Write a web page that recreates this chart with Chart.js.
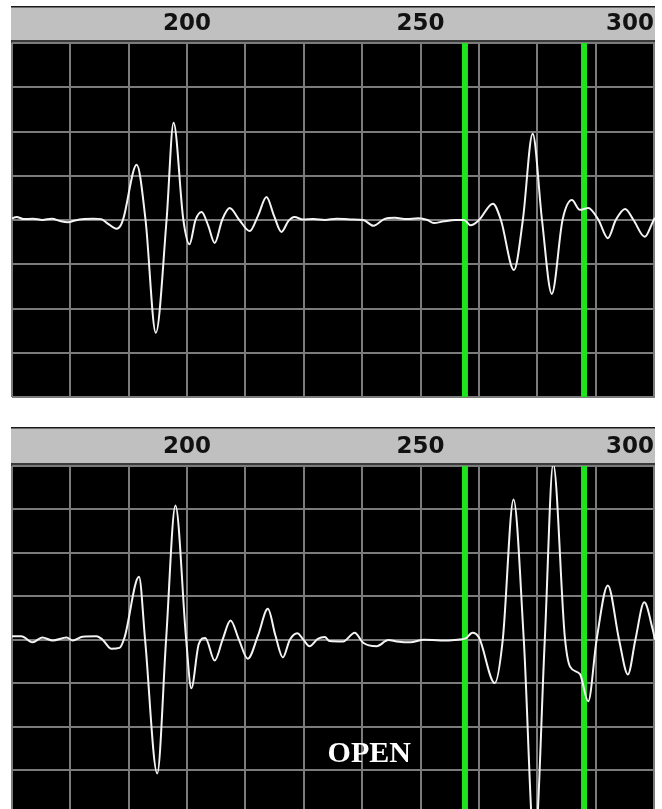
<!DOCTYPE html>
<html>
<head>
<meta charset="utf-8">
<script src="https://cdn.jsdelivr.net/npm/chart.js@4.4.0/dist/chart.umd.min.js"></script>
<style>
  html, body { margin: 0; padding: 0; background: #fff; }
  .panel { position: absolute; left: 0; width: 662px; }
  #topPanel { top: 0; height: 400px; }
  #bottomPanel { top: 421px; height: 388px; }
</style>
</head>
<body>
<div class="panel" id="topPanel"><canvas id="topChart"></canvas></div>
<div class="panel" id="bottomPanel"><canvas id="bottomChart"></canvas></div>
<script>
// x range of both panels, grid step and the labels in the grey header
const xMin = 162.5;
const xMax = 300.2;
const gridStep = 12.5;
const tickLabels = [200, 250, 300];

// the two green cursors
const cursorX = [259.5, 285];

// upper trace
const topX = [
  162.4, 163.5, 165.0, 167.0, 169.0, 171.0, 173.0, 174.5, 176.0, 178.0,
  180.0, 181.6, 183.0, 184.9, 185.8, 186.4, 189.2, 191.1, 193.3, 195.6,
  197.1, 199.2, 200.5, 201.8, 203.1, 204.5, 205.9, 207.5, 209.1, 211.2,
  213.4, 215.2, 217.0, 218.6, 220.2, 221.7, 223.0, 224.8, 227.0, 229.5,
  232.0, 235.0, 237.7, 239.9, 242.2, 244.5, 247.0, 249.5, 251.5, 252.8,
  255.0, 257.5, 259.3, 260.7, 262.5, 265.5, 267.2, 270.0, 271.9, 274.0,
  276.0, 278.1, 280.4, 282.4, 284.1, 285.9, 288.1, 290.1, 291.8, 293.8,
  295.6, 298.0, 299.7, 300.2,
];
const topY = [
  0.03, 0.07, 0.02, 0.03, 0.0, 0.03, -0.03, -0.05, -0.01, 0.02,
  0.03, 0.02, -0.08, -0.2, -0.12, 0.05, 1.25, 0.0, -2.55, 0.0,
  2.2, 0.0, -0.55, 0.0, 0.18, -0.12, -0.52, 0.0, 0.27, 0.0,
  -0.25, 0.1, 0.52, 0.1, -0.27, -0.02, 0.07, 0.01, 0.02, 0.0,
  0.03, 0.01, 0.0, -0.13, 0.02, 0.05, 0.02, 0.04, 0.0, -0.07,
  -0.03, 0.0, 0.0, -0.12, 0.0, 0.37, 0.0, -1.13, 0.0, 1.95,
  0.0, -1.67, 0.0, 0.45, 0.23, 0.27, 0.0, -0.41, 0.0, 0.25,
  0.0, -0.38, -0.05, 0.05,
];

// lower trace
const bottomX = [
  162.4, 164.5, 166.9, 169.0, 171.2, 174.2, 175.5, 177.6, 180.6, 181.9,
  183.8, 185.5, 186.6, 189.7, 191.0, 193.6, 195.5, 197.5, 199.8, 200.9,
  202.5, 203.9, 205.9, 207.6, 209.3, 211.1, 213.0, 215.2, 217.3, 218.9,
  220.5, 222.0, 223.6, 224.9, 226.2, 228.0, 229.5, 230.5, 233.4, 235.9,
  237.7, 240.6, 243.1, 244.9, 247.8, 250.7, 254.3, 257.9, 259.7, 261.1,
  262.5, 265.9, 267.6, 269.9, 272.1, 274.4, 276.6, 278.4, 280.9, 282.0,
  284.1, 285.9, 287.7, 290.1, 292.5, 294.4, 296.0, 297.9, 299.7, 300.2,
];
const bottomY = [
  0.08, 0.08, -0.06, 0.05, -0.02, 0.05, -0.02, 0.07, 0.08, 0.0,
  -0.21, -0.19, 0.05, 1.45, 0.0, -3.08, 0.0, 3.09, 0.0, -1.12,
  -0.1, 0.04, -0.48, 0.0, 0.44, 0.0, -0.44, 0.1, 0.71, 0.1,
  -0.41, 0.0, 0.15, 0.0, -0.15, 0.02, 0.06, -0.03, -0.04, 0.16,
  -0.07, -0.15, -0.01, -0.04, -0.06, 0.0, -0.02, 0.0, 0.03, 0.16,
  0.05, -1.0, 0.0, 3.23, 0.0, -4.8, 0.0, 4.05, 0.05, -0.62,
  -0.79, -1.42, 0.0, 1.25, 0.0, -0.8, 0.0, 0.86, 0.24, 0.0,
];

const openLabel = { text: "OPEN", x: 239, y: -2.63 };

// grey header + black plot area
const panelBackground = {
  id: "panelBackground",
  beforeDraw(chart, args, opts) {
    const { ctx, chartArea: a } = chart;
    const w = a.right - a.left + 1;
    ctx.save();
    ctx.fillStyle = "#c0c0c0";
    ctx.fillRect(a.left - 1, opts.headerTop, w, a.top - opts.headerTop);
    ctx.fillStyle = "#1a1a1a";
    ctx.fillRect(a.left - 1, opts.headerTop - 1, w, 1.5);
    ctx.fillStyle = "#3a3a3a";
    ctx.fillRect(a.left - 1, a.top - 3, w, 3);
    ctx.fillStyle = "#000";
    ctx.fillRect(a.left - 1, a.top, w, a.bottom - a.top);
    ctx.restore();
  },
};

const openText = {
  id: "openText",
  afterDatasetsDraw(chart, args, opts) {
    if (!opts.text) return;
    const { ctx, scales } = chart;
    ctx.save();
    ctx.font = "bold 30px 'Liberation Serif'";
    ctx.fillStyle = "#fff";
    ctx.textAlign = "center";
    ctx.textBaseline = "middle";
    ctx.fillText(opts.text, scales.x.getPixelForValue(opts.x), scales.y.getPixelForValue(opts.y));
    ctx.restore();
  },
};

const gridColor = "#7b7b7b";

const makePanel = (canvasId, xs, ys, yMin, axisHeight, label) => {
  const data = {
    datasets: [
      {
        data: xs.map((x, i) => ({ x, y: ys[i] })),
        borderColor: "#f4f4f4",
        borderWidth: 2,
        pointRadius: 0,
        cubicInterpolationMode: "monotone",
        order: 0,
      },
      ...cursorX.map((x) => ({
        data: [{ x, y: -10 }, { x, y: 10 }],
        borderColor: "#1fe31f",
        borderWidth: 6,
        pointRadius: 0,
        order: 1,
      })),
    ],
  };

  const options = {
    responsive: true,
    maintainAspectRatio: false,
    animation: false,
    layout: { padding: { top: 7, left: 12, right: 7, bottom: canvasId === "topChart" ? 3 : 0 } },
    plugins: {
      legend: { display: false },
      tooltip: { enabled: false },
      panelBackground: { headerTop: 7 },
      openText: label || {},
    },
    scales: {
      x: {
        type: "linear",
        position: "top",
        min: xMin,
        max: xMax,
        afterFit: (s) => {
          s.height = axisHeight;
          s.paddingLeft = 0;
          s.paddingRight = 0;
        },
        grid: { color: gridColor, lineWidth: 2, drawTicks: false },
        border: { display: false },
        ticks: {
          stepSize: gridStep,
          includeBounds: false,
          autoSkip: false,
          maxRotation: 0,
          align: "inner",
          padding: 5,
          color: "#111",
          font: { family: "DejaVu Sans", weight: "bold", size: 23 },
          callback: (v) => (tickLabels.includes(v) ? String(v) : ""),
        },
      },
      y: {
        type: "linear",
        min: yMin,
        max: 4,
        afterFit: (s) => {
          s.width = 0;
          s.paddingTop = 0;
          s.paddingBottom = 0;
        },
        grid: { color: gridColor, lineWidth: 2, drawTicks: false },
        border: { display: false },
        ticks: { stepSize: 1, display: false, includeBounds: false },
      },
    },
  };

  new Chart(canvasId, { type: "line", data, options, plugins: [panelBackground, openText] });
};

makePanel("topChart", topX, topY, -4, 36);
makePanel("bottomChart", bottomX, bottomY, -3.9, 38, openLabel);
</script>
</body>
</html>
